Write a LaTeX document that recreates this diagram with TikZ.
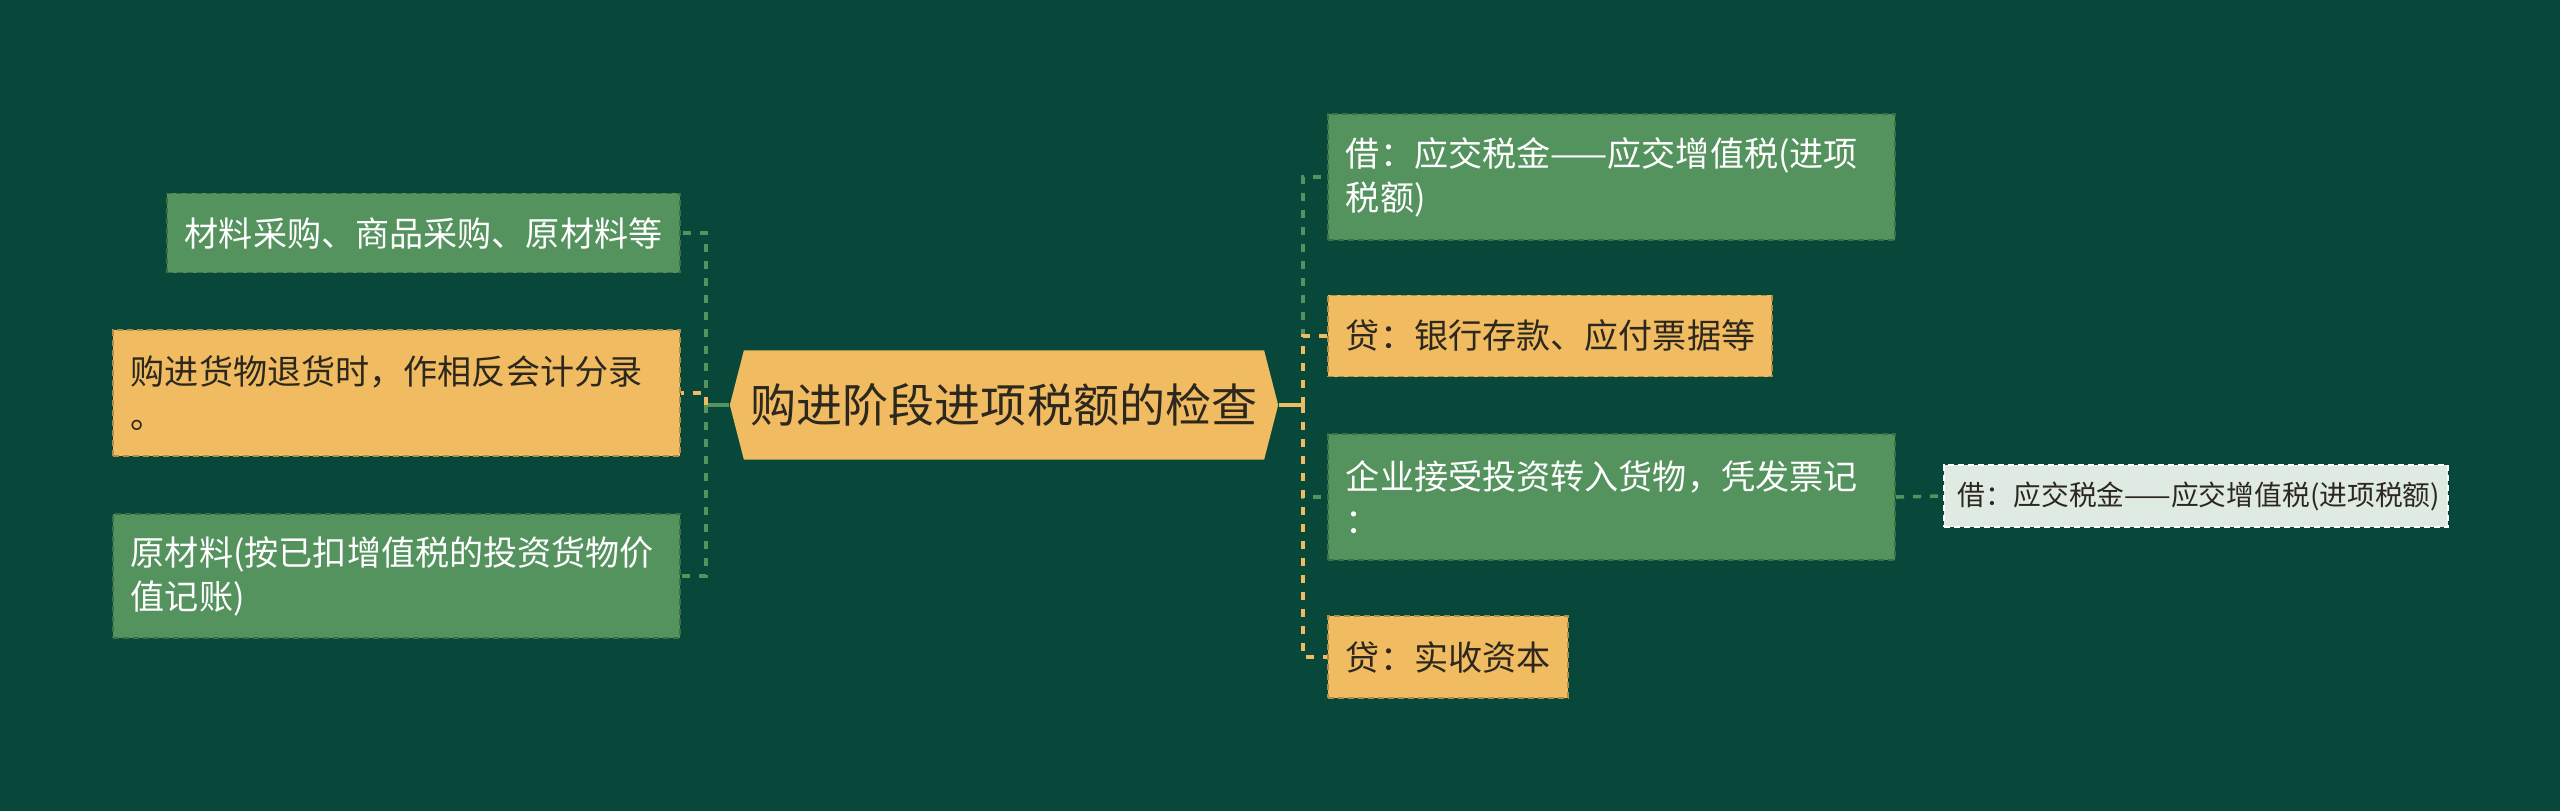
\documentclass[tikz,border=0pt]{standalone}
\usepackage{fontspec}
\setmainfont{Noto Sans CJK SC}
\usetikzlibrary{positioning}

\definecolor{bgdark}{RGB}{7,72,58}
\definecolor{leafgreen}{RGB}{84,146,94}
\definecolor{leafyellow}{RGB}{240,187,97}
\definecolor{leafpale}{RGB}{222,234,226}
\definecolor{inkdark}{RGB}{45,40,30}

\tikzset{
  leaf/.style={anchor=west, align=left, inner xsep=0.18cm, inner ysep=0pt,
    dash pattern=on 0.06cm off 0.04cm, line width=0.5pt,
    font=\fontsize{9.7pt}{12.5pt}\selectfont},
  greenleaf/.style={leaf, draw=leafgreen!75!black, fill=leafgreen, text=white},
  yellowleaf/.style={leaf, draw=leafyellow!75!black, fill=leafyellow, text=inkdark},
  paleleaf/.style={leaf, draw=white, fill=leafpale, text=inkdark, inner xsep=0.14cm,
    font=\fontsize{7.9pt}{9.5pt}\selectfont},
  stub/.style={line width=1pt},
  link/.style={line width=1pt, dash pattern=on 0.08cm off 0.09cm},
}

\begin{document}
\begin{tikzpicture}[x=0.01cm, y=-0.01cm]

\fill[bgdark] (0, 0) rectangle (2560, 811);
\useasboundingbox (0, 0) rectangle (2560, 811);

% root
\node (root) at (1004, 405) [minimum width=5.48cm, minimum height=1.09cm, text=inkdark,
  font=\fontsize{13.1pt}{16pt}\selectfont,
  path picture={\fill[leafyellow] (path picture bounding box.west)
    -- ([shift={(14,0)}]path picture bounding box.north west)
    -- ([shift={(-14,0)}]path picture bounding box.north east)
    -- (path picture bounding box.east)
    -- ([shift={(-14,0)}]path picture bounding box.south east)
    -- ([shift={(14,0)}]path picture bounding box.south west) -- cycle;}]
{购进阶段进项税额的检查};

% right side
\node (r1) at (1327, 177) [greenleaf, text width=5.31cm, minimum height=1.26cm]
{借：应交税金——应交增值税(进项\\税额)};
\node (r2) at (1327, 336) [yellowleaf, text width=4.08cm, minimum height=0.81cm]
{贷：银行存款、应付票据等};
\node (r3) at (1327, 497) [greenleaf, text width=5.31cm, minimum height=1.26cm]
{企业接受投资转入货物，凭发票记\\：};
\node (r4) at (1327, 657) [yellowleaf, text width=2.04cm, minimum height=0.82cm]
{贷：实收资本};
\node (g1) at (1943, 496) [paleleaf, text width=4.76cm, minimum height=0.62cm]
{\mbox{借：应交税金——应交增值税(进项税额)}};

% left side
\node (l1) at (681, 233) [greenleaf, anchor=east, text width=4.77cm, minimum height=0.79cm]
{材料采购、商品采购、原材料等};
\node (l2) at (681, 393) [yellowleaf, anchor=east, text width=5.31cm, minimum height=1.26cm]
{购进货物退货时，作相反会计分录\\。};
\node (l3) at (681, 576) [greenleaf, anchor=east, text width=5.31cm, minimum height=1.24cm]
{原材料(按已扣增值税的投资货物价\\值记账)};

\coordinate (rfork) at (1303, 405);
\coordinate (lfork) at (706, 405);

\draw[stub, leafyellow] (root.east) -- (rfork);
\draw[link, leafgreen] (rfork) |- (r1.west);
\draw[link, leafgreen] (rfork) |- (r3.west);
\draw[link, leafyellow] (rfork) |- (r2.west);
\draw[link, leafyellow] (rfork) |- (r4.west);
\draw[link, leafgreen] (r3.east) -- (g1.west);

\draw[stub, leafgreen] (root.west) -- (lfork);
\draw[link, leafgreen] (lfork) |- (l1.east);
\draw[link, leafgreen] (lfork) |- (l3.east);
\draw[link, leafyellow] (lfork) |- (l2.east);

\end{tikzpicture}
\end{document}
